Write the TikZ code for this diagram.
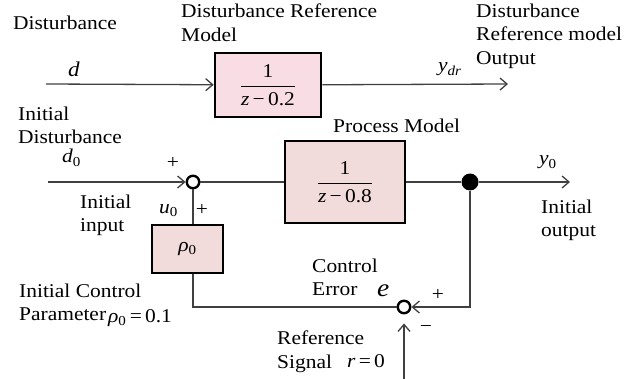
\documentclass[tikz,border=0pt]{standalone}
\usepackage{amsmath}
\usepackage{fontspec}
\setmainfont{Liberation Serif}[FakeStretch=1.1]
\usetikzlibrary{arrows.meta,positioning,calc}
\definecolor{refpink}{RGB}{249,221,229}
\definecolor{procpink}{RGB}{242,220,219}
\definecolor{wiregray}{RGB}{64,64,64}

\begin{document}
\begin{tikzpicture}[x=1pt,y=-1pt,
    font=\fontsize{19.5}{23.5}\selectfont,
    block/.style={draw=black,line width=2.6pt,rectangle,inner sep=0pt},
    junction/.style={draw=black,line width=2.4pt,circle,fill=white,minimum size=12.5pt,inner sep=0pt},
    tap/.style={fill=black,circle,minimum size=17pt,inner sep=0pt},
    caption/.style={anchor=north west,align=left,inner sep=0pt},
    sym/.style={anchor=base west,inner sep=0pt},
    sign/.style={inner sep=0pt},
    wire/.style={draw=wiregray,line width=1.3pt},
    flow/.style={wire,-{Straight Barb[length=7pt,width=12pt]}}]
    \useasboundingbox (0,0) rectangle (644,379);

    % Blocks
    \node[block,fill=refpink,minimum width=106pt,minimum height=64pt] (drm) at (268,85) {$\dfrac{\text{1}}{\text{\textit{z}\,−\,0.2}}$};
    \node[block,fill=procpink,minimum width=120pt,minimum height=82pt] (pm) at (345,182) {$\dfrac{\text{1}}{\text{\textit{z}\,−\,0.8}}$};
    \node[block,fill=procpink,minimum width=71pt,minimum height=48pt] (rho) at (187.5,249) {\textit{ρ}\textsubscript{0}};

    % Junctions
    \node[junction] (sum1) at (193,182) {};
    \node[junction] (sum2) at (404,307) {};
    \node[tap] (dot) at (470,182) {};

    % Free ends
    \coordinate (dIn) at (46,84);
    \coordinate (dOut) at (508,84);
    \coordinate (d0In) at (48,182);
    \coordinate (y0Out) at (570,182);
    \coordinate (rIn) at (404,379);

    % Connectors
    \draw[flow] (dIn) -- (drm);
    \draw[flow] (drm) -- (dOut);
    \draw[flow] (d0In) -- (sum1);
    \draw[wire] (sum1) -- (pm);
    \draw[wire] (pm) -- (dot);
    \draw[flow] (dot) -- (y0Out);
    \draw[wire] (sum1) -- (sum1 |- rho.north);
    \draw[wire] (rho.south -| sum1) |- (sum2);
    \draw[flow] (dot) |- (sum2);
    \draw[flow,shorten >=9pt] (rIn) -- (sum2);

    % Captions
    \node[caption] (distcap) at (13,15.7) {Disturbance};
    \node[caption] (drmcap) at (181,3.7) {Disturbance Reference\\Model};
    \node[caption] (ydrcap) at (476,3.7) {Disturbance\\Reference model\\Output};
    \node[caption] (d0cap) at (18,106.7) {Initial\\Disturbance};
    \node[caption] (pmcap) at (333,118.7) {Process Model};
    \node[caption] (u0cap) at (80,194.7) {Initial\\input};
    \node[caption] (y0cap) at (541,199.7) {Initial\\output};
    \node[caption] (ecap) at (312,258.7) {Control\\Error};
    \node[caption] (rhocap) at (19,283.7) {Initial Control\\Parameter};
    \node[caption] (rcap) at (277,330.7) {Reference\\Signal};

    % Signals and signs
    \node[sym,font=\fontsize{21}{24}\selectfont] (dsym) at (68,77) {\textit{d}};
    \node[sym] (ydrsym) at (438,72) {\textit{y}\textsubscript{\textit{dr}}};
    \node[sym] (d0sym) at (62,163) {\textit{d}\textsubscript{0}};
    \node[sym] (u0sym) at (159,213) {\textit{u}\textsubscript{0}};
    \node[sym] (y0sym) at (539,165) {\textit{y}\textsubscript{0}};
    \node[sym,font=\fontsize{25}{28}\selectfont] (esym) at (377,296) {\textit{e}};
    \node[sym] (rsym) at (347,367) {\textit{r}\,=\,0};
    \node[sym] (rho0sym) at (108,322) {\textit{ρ}\textsubscript{0}\,=\,0.1};
    \node[sign] (plusd) at (173,163) {+};
    \node[sign] (plusu) at (202,210) {+};
    \node[sign] (pluse) at (438,295) {+};
    \node[sign] (minusr) at (426,329) {−};
\end{tikzpicture}
\end{document}
